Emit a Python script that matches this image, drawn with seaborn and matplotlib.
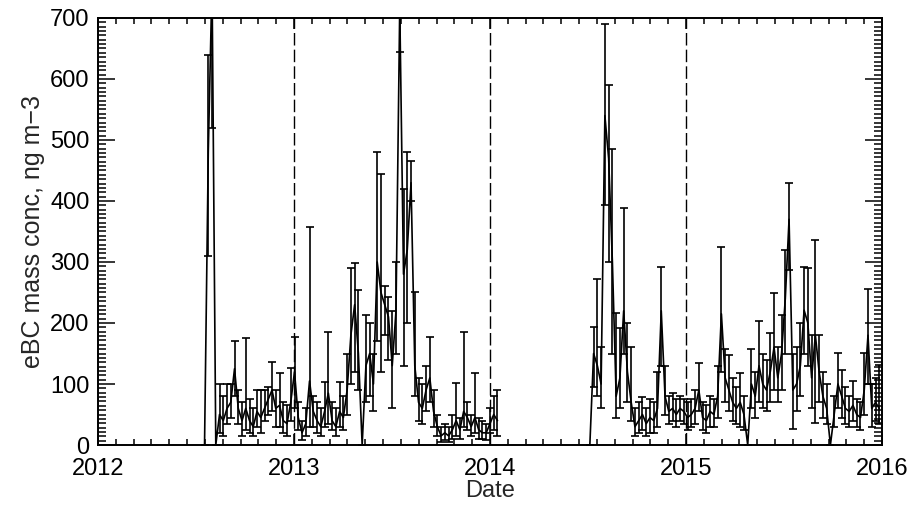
import numpy as np
import pandas as pd
import matplotlib
matplotlib.use("Agg")
import matplotlib.pyplot as plt
import seaborn as sb
from matplotlib.ticker import MultipleLocator

# weekly eBC values, first campaign (starts 2012-07-18)
conc1 = [0, 480, 760, 0, 50, 40, 60, 70, 125, 60,
         40, 60, 40, 30, 55, 45, 60, 75, 90, 60,
         65, 40, 35, 70, 120, 45, 20, 35, 105, 55,
         40, 30, 55, 85, 40, 30, 55, 45, 90, 180,
         230, 150, 0, 130, 150, 100, 300, 250, 230, 210,
         130, 220, 720, 280, 320, 430, 130, 70, 60, 90,
         110, 55, 30, 15, 20, 15, 25, 40, 25, 55,
         45, 30, 45, 25, 20, 20, 35, 50, 40]
lo1 = [0, 310, 520, 0, 20, 15, 35, 45, 80, 35,
       15, 25, 20, 15, 30, 20, 40, 50, 55, 30,
       30, 20, 15, 40, 60, 25, 8, 15, 30, 30,
       20, 15, 30, 35, 25, 15, 30, 25, 50, 100,
       120, 90, 0, 70, 80, 55, 170, 120, 180, 140,
       60, 150, 645, 130, 200, 400, 80, 40, 35, 55,
       70, 30, 15, 5, 8, 5, 10, 15, 10, 30,
       25, 15, 20, 10, 10, 8, 20, 25, 15]
hi1 = [0, 640, 990, 0, 100, 80, 100, 100, 170, 90,
       70, 175, 75, 60, 90, 90, 90, 95, 136, 90,
       118, 70, 65, 126, 177, 70, 40, 60, 357, 80,
       70, 60, 104, 186, 70, 60, 104, 80, 150, 290,
       298, 254, 0, 213, 200, 150, 481, 445, 260, 243,
       220, 300, 800, 420, 481, 465, 250, 110, 100, 130,
       177, 90, 50, 30, 35, 30, 50, 102, 45, 185,
       70, 50, 118, 45, 40, 35, 60, 80, 90]

# second campaign (starts 2014-07-06)
conc2 = [0, 150, 130, 100, 540, 470, 300, 80, 110, 220,
         120, 70, 30, 40, 50, 35, 45, 40, 60, 220,
         80, 55, 60, 50, 60, 55, 45, 50, 60, 90,
         45, 40, 55, 50, 80, 215, 110, 90, 70, 60,
         70, 50, 0, 100, 80, 130, 100, 90, 120, 160,
         110, 150, 240, 370, 90, 100, 130, 221, 200, 110,
         180, 120, 80, 60, 0, 50, 100, 80, 60, 55,
         65, 50, 45, 90, 180, 60, 70, 60]
lo2 = [0, 95, 80, 60, 393, 300, 150, 45, 60, 150,
       70, 40, 15, 20, 25, 15, 20, 20, 30, 130,
       50, 35, 40, 30, 40, 35, 25, 30, 35, 55,
       25, 20, 30, 30, 45, 120, 70, 55, 40, 35,
       30, 25, 0, 60, 45, 70, 60, 55, 70, 90,
       70, 90, 150, 287, 26, 55, 80, 150, 130, 60,
       36, 70, 45, 35, 0, 30, 60, 45, 35, 30,
       40, 30, 25, 50, 100, 30, 40, 35]
hi2 = [0, 194, 272, 160, 690, 590, 485, 216, 191, 388,
       200, 161, 60, 70, 79, 60, 75, 70, 120, 292,
       130, 80, 85, 75, 80, 75, 70, 75, 90, 134,
       70, 65, 80, 75, 130, 325, 157, 148, 110, 95,
       118, 80, 0, 157, 120, 203, 150, 140, 184, 249,
       160, 213, 320, 429, 150, 160, 200, 292, 290, 180,
       336, 180, 120, 100, 0, 80, 151, 123, 95, 80,
       105, 75, 70, 151, 255, 100, 110, 131]

year_lines = [2013, 2014, 2015]
year_ticks = [2012, 2013, 2014, 2015, 2016]


def decYear(dates):
    days = np.where(dates.is_leap_year, 366.0, 365.0)
    return dates.year + (dates.dayofyear - 1) / days


def makeFrame(start, conc, lo, hi, seg):
    dates = pd.date_range(start, periods=len(conc), freq="7D")
    return pd.DataFrame({"year": decYear(dates), "conc": conc,
                         "lo": lo, "hi": hi, "seg": seg})


df = pd.concat([makeFrame("2012-07-18", conc1, lo1, hi1, 1),
                makeFrame("2014-07-06", conc2, lo2, hi2, 2)],
               ignore_index=True)

sb.set_style("ticks")
plt.rcParams["font.family"] = ["Liberation Sans", "DejaVu Sans"]

fig = plt.figure(figsize=(9.13, 5.05), dpi=100)
ax = fig.add_axes([0.1073, 0.1188, 0.8587, 0.8456])

for seg, d in df.groupby("seg"):
    ax.errorbar(d["year"], d["conc"], yerr=[d["conc"] - d["lo"], d["hi"] - d["conc"]],
                fmt="none", ecolor="k", elinewidth=1.2, capsize=3, capthick=1.2)
sb.lineplot(data=df, x="year", y="conc", units="seg", estimator=None,
            color="k", lw=1.2, ax=ax, legend=False)

for yr in year_lines:
    ax.axvline(yr, color="k", lw=1.0, ls=(0, (9, 3)))

ax.set_xlim(2012, 2016)
ax.set_ylim(0, 700)
ax.set_xticks(year_ticks)
ax.set_xticklabels([str(y) for y in year_ticks])
ax.xaxis.set_minor_locator(MultipleLocator(1 / 11))
ax.yaxis.set_major_locator(MultipleLocator(100))
ax.yaxis.set_minor_locator(MultipleLocator(100 / 14))
ax.tick_params(which="both", direction="in", top=True, right=True,
               colors="k", labelsize=17, width=1.1)
ax.tick_params(axis="x", which="major", length=8, pad=9)
ax.tick_params(axis="x", which="minor", length=4)
ax.tick_params(axis="y", which="major", length=12, pad=6)
ax.tick_params(axis="y", which="minor", length=6)
for sp in ax.spines.values():
    sp.set_linewidth(1.4)
    sp.set_color("k")

ax.set_xlabel("Date", fontsize=17, labelpad=0)
ax.set_ylabel("eBC mass conc, ng m\u22123", fontsize=18, labelpad=4)

fig.savefig("out.png", dpi=100)
